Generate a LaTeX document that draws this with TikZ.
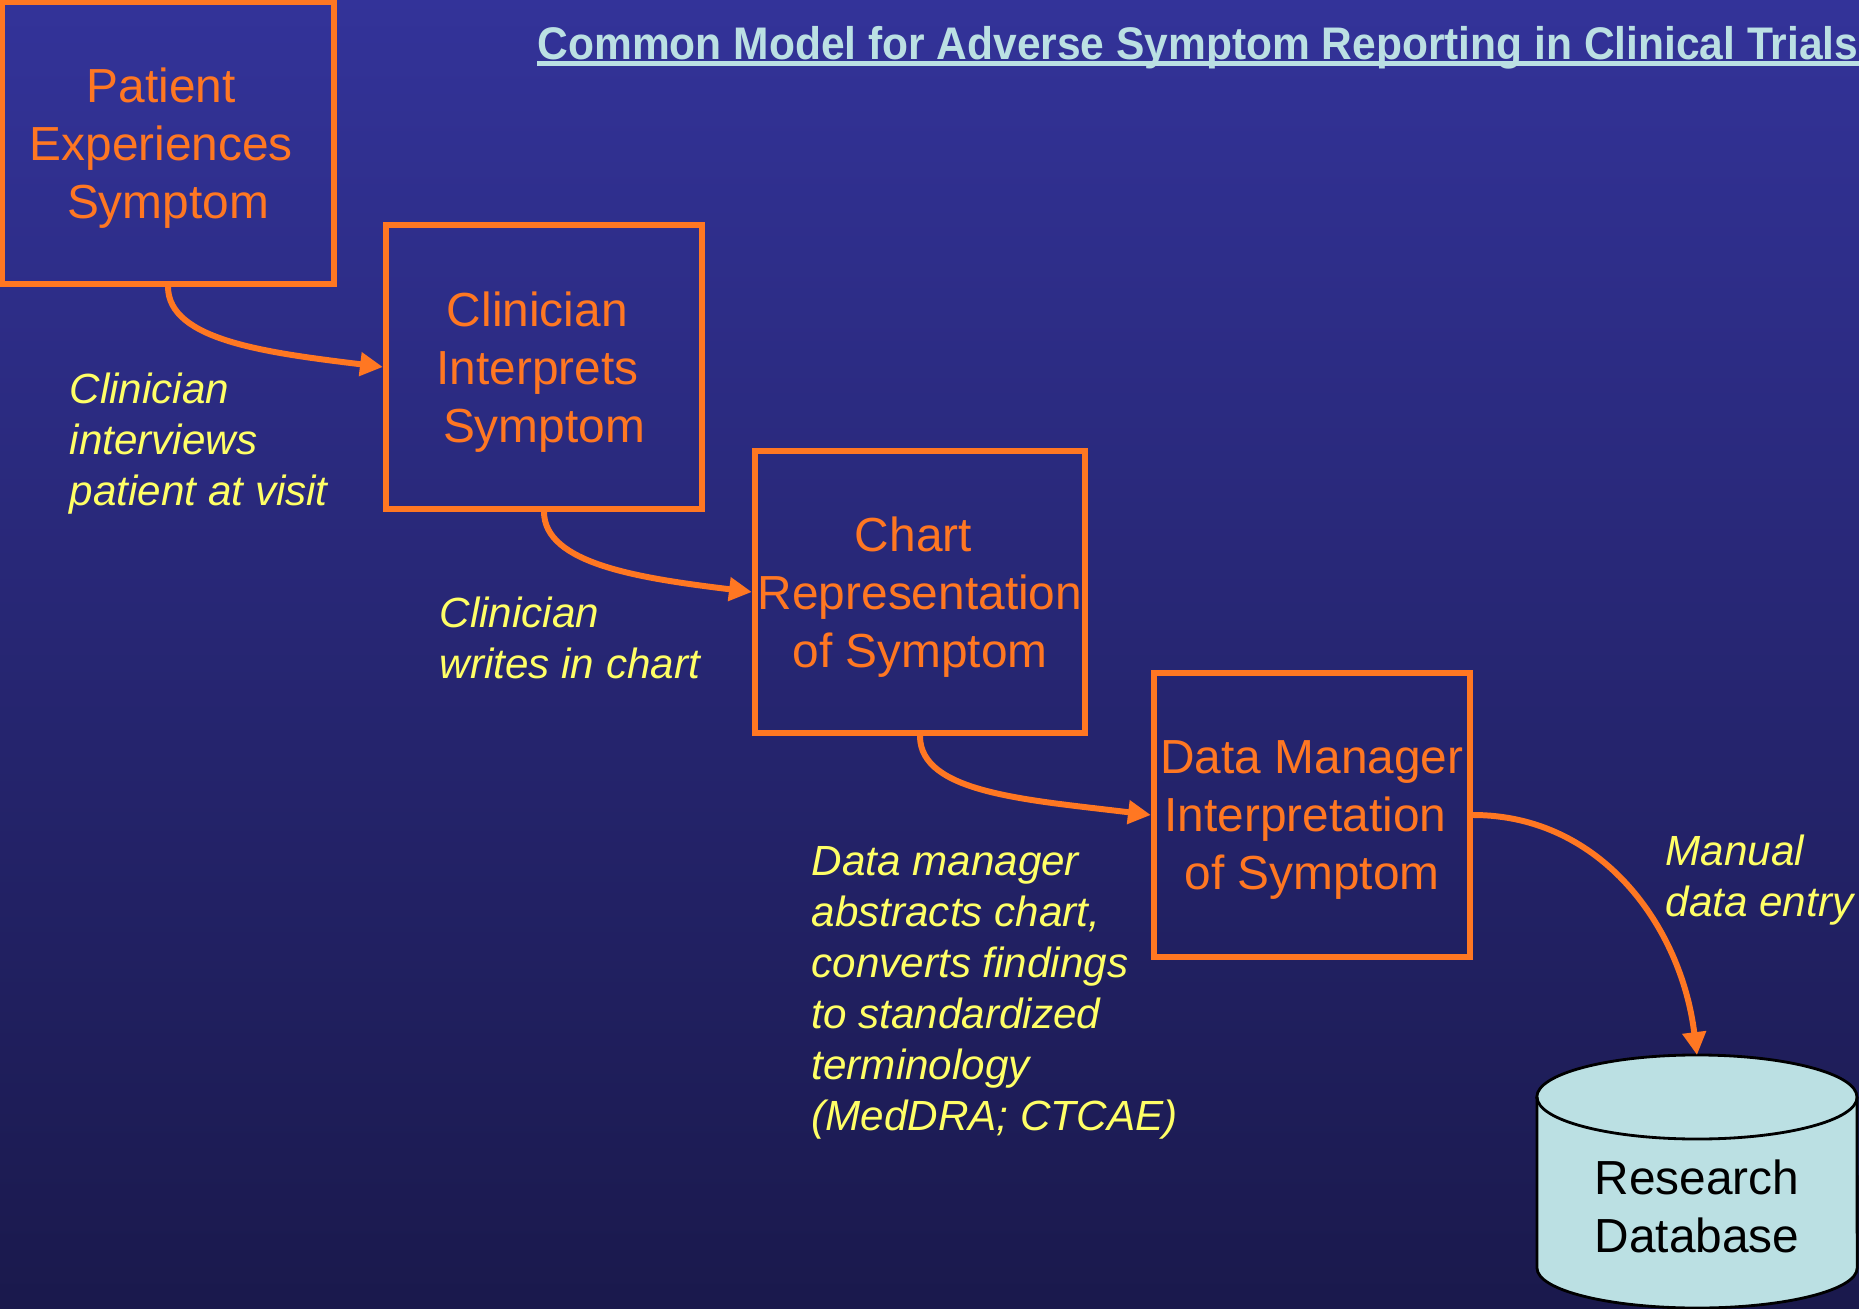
\documentclass[tikz,border=0pt]{standalone}
\usepackage{graphicx}
\usepackage{fontspec}
\setmainfont{Liberation Sans}
\usetikzlibrary{arrows.meta}
\definecolor{bgtop}{RGB}{51,51,153}
\definecolor{bgbot}{RGB}{26,25,76}
\definecolor{boxorange}{RGB}{255,119,34}
\definecolor{noteyellow}{RGB}{255,255,102}
\definecolor{paleblue}{RGB}{187,224,227}
\newcommand\trailsp{\kern.278em}

\begin{document}
\begin{tikzpicture}[x=0.01cm,y=-0.01cm,
    stepbox/.style={draw=boxorange,line width=1.7pt,text=boxorange,align=center,
      font=\fontsize{13.6}{16.5}\selectfont,inner sep=0pt,text depth=-1pt},
    note/.style={text=noteyellow,align=left,anchor=west,inner sep=0pt,
      font=\fontsize{12}{14.5}\selectfont\itshape},
    flow/.style={draw=boxorange,line width=1.7pt,-{Triangle[length=6.5pt,width=6.5pt]}},
    dbline/.style={draw=black,line width=0.8pt,fill=paleblue}]
    \useasboundingbox (0,0) rectangle (1859,1309);
    \clip (0,0) rectangle (1859,1309);
    \shade[top color=bgtop,bottom color=bgbot] (0,0) rectangle (1859,1309);
    \node[anchor=base west,inner sep=0pt,text=paleblue,
      font=\fontsize{13}{15}\selectfont\bfseries] (title) at (537,59)
      {\scalebox{0.93}[1]{Common Model for Adverse Symptom Reporting in Clinical Trials}};
    \draw[paleblue,line width=1.4pt] ([yshift=-1.3pt]title.base west) -- ([yshift=-1.3pt]title.base east);
    \node[stepbox,minimum width=3.31cm,minimum height=2.81cm] (patient) at (168,143)
      {Patient\trailsp\\Experiences\trailsp\\Symptom};
    \node[stepbox,minimum width=3.16cm,minimum height=2.83cm] (clinician) at (544,367)
      {Clinician\trailsp\\Interprets\trailsp\\Symptom};
    \node[stepbox,minimum width=3.30cm,minimum height=2.82cm] (chart) at (920,592)
      {Chart\trailsp\\Representation\\of Symptom};
    \node[stepbox,minimum width=3.16cm,minimum height=2.83cm] (manager) at (1312,815)
      {Data Manager\\Interpretation\trailsp\\of Symptom};
    \filldraw[dbline] (1537,1097) -- (1537,1268) arc[start angle=180,end angle=360,x radius=1.6cm,y radius=0.4cm]
      -- (1857,1097) arc[start angle=0,end angle=180,x radius=1.6cm,y radius=0.42cm] -- cycle;
    \draw[dbline,fill=none] (1537,1097) arc[start angle=180,end angle=360,x radius=1.6cm,y radius=0.42cm];
    \coordinate (dbtop) at (1697,1055);
    \node[align=center,inner sep=0pt,font=\fontsize{13.6}{16.5}\selectfont] (db) at (1697,1206)
      {Research\\Database};
    \node[note] (interview) at (69,444) {Clinician\\interviews\\patient at visit};
    \node[note] (writes) at (439,638) {Clinician\\writes in chart};
    \node[note] (abstracts) at (811,993) {Data manager\\abstracts chart,\\converts findings\\to standardized\\terminology\\(MedDRA; CTCAE)};
    \node[note] (entry) at (1665,880) {Manual\\data entry};
    \draw[flow] (patient.south) to[out=-90,in=173,out looseness=0.6,in looseness=1.3] (clinician.west);
    \draw[flow] (clinician.south) to[out=-90,in=173,out looseness=0.6,in looseness=1.3] (chart.west);
    \draw[flow] (chart.south) to[out=-90,in=173,out looseness=0.6,in looseness=1.3] (manager.west);
    \draw[flow] (manager.east) to[out=0,in=97] (dbtop);
\end{tikzpicture}
\end{document}
